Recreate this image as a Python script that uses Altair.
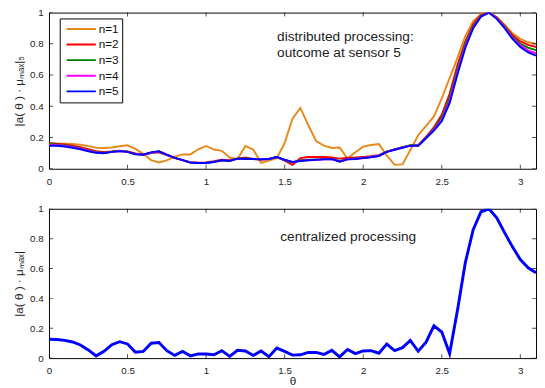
import altair as alt
import pandas as pd

# ---------------- data ----------------
theta = [round(i * 0.05, 2) for i in range(63)]  # 0 .. 3.10

n1 = [0.162, 0.161, 0.160, 0.158, 0.154, 0.145, 0.135, 0.133, 0.136, 0.144,
      0.150, 0.127, 0.096, 0.055, 0.040, 0.054, 0.078, 0.092, 0.092, 0.125,
      0.146, 0.123, 0.115, 0.072, 0.062, 0.146, 0.123, 0.038, 0.052, 0.068,
      0.165, 0.320, 0.390, 0.280, 0.178, 0.148, 0.133, 0.136, 0.065, 0.106,
      0.142, 0.152, 0.158, 0.085, 0.025, 0.028, 0.120, 0.215, 0.275, 0.335,
      0.450, 0.580, 0.710, 0.850, 0.945, 0.990, 1.000, 0.972, 0.922, 0.868,
      0.832, 0.810, 0.800]
n2 = [0.163, 0.160, 0.155, 0.148, 0.138, 0.125, 0.113, 0.108, 0.110, 0.115,
      0.110, 0.098, 0.092, 0.100, 0.105, 0.088, 0.070, 0.055, 0.040, 0.038,
      0.040, 0.048, 0.058, 0.055, 0.065, 0.072, 0.063, 0.060, 0.063, 0.075,
      0.052, 0.025, 0.068, 0.075, 0.075, 0.075, 0.072, 0.065, 0.070, 0.072,
      0.076, 0.080, 0.087, 0.110, 0.123, 0.136, 0.148, 0.150, 0.205, 0.265,
      0.345, 0.480, 0.665, 0.815, 0.925, 0.985, 1.000, 0.968, 0.915, 0.855,
      0.815, 0.793, 0.780]
n3 = [0.158, 0.156, 0.151, 0.143, 0.132, 0.119, 0.107, 0.103, 0.109, 0.114,
      0.109, 0.095, 0.091, 0.103, 0.110, 0.089, 0.070, 0.055, 0.040, 0.037,
      0.038, 0.045, 0.055, 0.052, 0.066, 0.066, 0.062, 0.060, 0.063, 0.075,
      0.056, 0.040, 0.055, 0.058, 0.060, 0.062, 0.063, 0.050, 0.063, 0.066,
      0.070, 0.076, 0.084, 0.109, 0.124, 0.138, 0.150, 0.150, 0.200, 0.255,
      0.330, 0.455, 0.640, 0.800, 0.915, 0.980, 1.000, 0.965, 0.910, 0.845,
      0.800, 0.775, 0.760]
n4 = [0.152, 0.151, 0.147, 0.139, 0.128, 0.115, 0.104, 0.101, 0.108, 0.113,
      0.108, 0.094, 0.090, 0.104, 0.111, 0.090, 0.070, 0.055, 0.040, 0.037,
      0.037, 0.044, 0.054, 0.051, 0.065, 0.063, 0.062, 0.060, 0.063, 0.075,
      0.057, 0.042, 0.052, 0.055, 0.058, 0.061, 0.062, 0.047, 0.061, 0.064,
      0.069, 0.075, 0.083, 0.108, 0.123, 0.136, 0.148, 0.148, 0.197, 0.250,
      0.315, 0.435, 0.620, 0.785, 0.905, 0.977, 1.000, 0.962, 0.905, 0.838,
      0.790, 0.757, 0.740]
n5 = [0.148, 0.147, 0.143, 0.135, 0.125, 0.112, 0.102, 0.100, 0.108, 0.113,
      0.108, 0.093, 0.090, 0.105, 0.112, 0.090, 0.070, 0.055, 0.040, 0.037,
      0.037, 0.043, 0.054, 0.050, 0.065, 0.062, 0.062, 0.060, 0.063, 0.075,
      0.058, 0.043, 0.050, 0.054, 0.057, 0.060, 0.062, 0.045, 0.060, 0.063,
      0.068, 0.074, 0.082, 0.108, 0.122, 0.135, 0.148, 0.148, 0.195, 0.245,
      0.305, 0.420, 0.605, 0.775, 0.900, 0.975, 1.000, 0.960, 0.900, 0.832,
      0.780, 0.745, 0.725]
central = [0.126, 0.125, 0.119, 0.108, 0.088, 0.055, 0.015, 0.045, 0.090, 0.110,
           0.095, 0.040, 0.045, 0.100, 0.105, 0.050, 0.018, 0.045, 0.015, 0.028,
           0.028, 0.022, 0.050, 0.012, 0.052, 0.048, 0.018, 0.048, 0.010, 0.067,
           0.045, 0.020, 0.022, 0.038, 0.038, 0.024, 0.052, 0.008, 0.058, 0.030,
           0.048, 0.050, 0.033, 0.094, 0.050, 0.070, 0.118, 0.046, 0.107, 0.216,
           0.175, 0.030, 0.320, 0.640, 0.860, 0.980, 1.000, 0.940, 0.840, 0.745,
           0.660, 0.605, 0.572]

series_names = ["n=1", "n=2", "n=3", "n=4", "n=5"]
series_colors = ["#E8891C", "#FF0000", "#008000", "#FF00FF", "#0000FF"]
series_widths = [2, 2, 2, 2, 3]

x_ticks = [0, 0.5, 1, 1.5, 2, 2.5, 3]
y_ticks = [0, 0.2, 0.4, 0.6, 0.8, 1]

top_note = ["distributed processing:", "outcome at sensor 5"]
top_note_theta = [1.452, 1.452]
top_note_value = [0.842, 0.742]
bottom_note = ["centralized processing"]
bottom_note_theta = [1.472]
bottom_note_value = [0.808]

TOP_YTITLE = "|a( θ ) · μₘₐₓ|₅"
BOT_YTITLE = "|a( θ ) · μₘₐₓ|"
BOT_XTITLE = "θ"

# ---------------- tables ----------------
rows = []
for name, vals in zip(series_names, [n1, n2, n3, n4, n5]):
    for t, v in zip(theta, vals):
        rows.append({"theta": t, "value": v, "n": name})
dist_df = pd.DataFrame(rows)
cent_df = pd.DataFrame({"theta": theta, "value": central})
xt_df = pd.DataFrame({"theta": x_ticks})
yt_df = pd.DataFrame({"value": y_ticks})

XMAX = 3.1
W = 499
H1 = 160
H2 = 153
FONT = "Liberation Sans"

x_scale = alt.Scale(domain=[0, XMAX], nice=False, zero=False)
y_scale = alt.Scale(domain=[0, 1], nice=False)

X_AXIS = alt.Axis(values=x_ticks, ticks=False, tickSize=0, domain=False, grid=False,
                  labelFontSize=10, labelPadding=8, format="~g", labelFlush=False,
                  titleFontSize=12, titleFontWeight="normal", titlePadding=0)
Y_AXIS = alt.Axis(values=y_ticks, ticks=False, tickSize=0, domain=False, grid=False,
                  labelFontSize=10, labelPadding=6, format="~g", labelFlush=False,
                  titleFontSize=12, titleFontWeight="normal", titlePadding=4)


def panel(h, xtitle, ytitle, layers):
    xe = alt.X("theta:Q", scale=x_scale, axis=X_AXIS, title=xtitle)
    ye = alt.Y("value:Q", scale=y_scale, axis=Y_AXIS, title=ytitle)
    tv = alt.Chart(xt_df).mark_tick(orient="vertical", size=8, thickness=1,
                                    color="black", clip=True)
    th = alt.Chart(yt_df).mark_tick(orient="horizontal", size=8, thickness=1,
                                    color="black", clip=True)
    ticks = [
        tv.encode(x=xe, y=alt.value(0)),
        tv.encode(x=xe, y=alt.value(h)),
        th.encode(y=ye, x=alt.value(0)),
        th.encode(y=ye, x=alt.value(W)),
    ]
    out = [l.encode(x=xe, y=ye) for l in layers]
    return alt.layer(*out, *ticks).properties(width=W, height=h)


# ---------------- top panel ----------------
top_lines = alt.Chart(dist_df).mark_line(clip=True).encode(
    color=alt.Color("n:N", scale=alt.Scale(domain=series_names, range=series_colors),
                    legend=alt.Legend(title=None, orient="none", legendX=11, legendY=6,
                                      symbolType="stroke", symbolSize=900,
                                      symbolStrokeWidth=2.5, labelFontSize=12,
                                      labelFont=FONT, labelColor="#111",
                                      strokeColor="black", fillColor="white",
                                      padding=3, symbolOffset=3, labelOffset=2,
                                      rowPadding=0, clipHeight=15.4)),
    strokeWidth=alt.StrokeWidth("n:N", scale=alt.Scale(domain=series_names, range=series_widths),
                                legend=None),
)
top_text = alt.Chart(pd.DataFrame({"theta": top_note_theta, "value": top_note_value,
                                   "label": top_note})).mark_text(
    align="left", baseline="middle", fontSize=14, font=FONT, color="#222"
).encode(text="label:N")

top = panel(H1, None, TOP_YTITLE, [top_lines, top_text])

# ---------------- bottom panel ----------------
bot_line = alt.Chart(cent_df).mark_line(clip=True, color="#0000FF", strokeWidth=3)
bot_text = alt.Chart(pd.DataFrame({"theta": bottom_note_theta, "value": bottom_note_value,
                                   "label": bottom_note})).mark_text(
    align="left", baseline="middle", fontSize=14, font=FONT, color="#222"
).encode(text="label:N")

bottom = panel(H2, BOT_XTITLE, BOT_YTITLE, [bot_line, bot_text])

chart = alt.vconcat(top, bottom, spacing=16).properties(
    padding={"left": 4, "top": -6, "right": 0, "bottom": 0}
).configure_view(stroke="black", strokeWidth=1).configure_axis(
    labelFont=FONT, titleFont=FONT, labelColor="#222", titleColor="#222"
)

chart.save("out.html", embed_options={"renderer": "svg", "actions": False})
